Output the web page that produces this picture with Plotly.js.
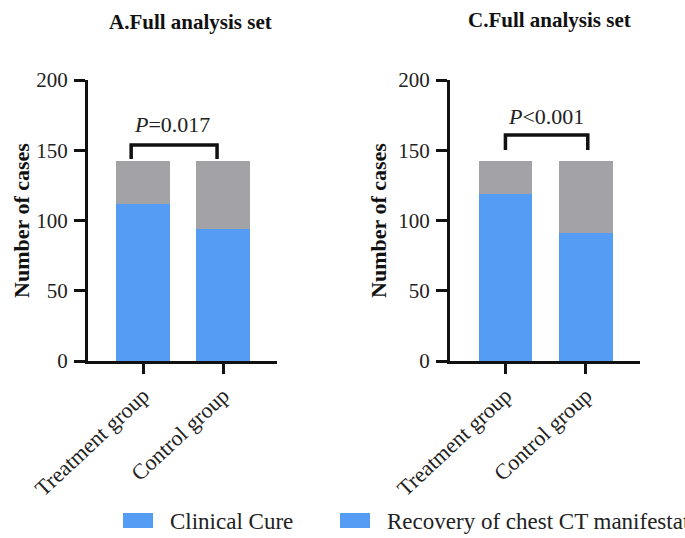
<!DOCTYPE html>
<html>
<head>
<meta charset="utf-8">
<script src="https://cdn.plot.ly/plotly-3.0.1.min.js"></script>
<style>html,body{margin:0;padding:0;overflow:hidden;background:#fff}</style>
</head>
<body>
<div id="chart" style="width:685px;height:538px"></div>
<script>
// ---- data ----
const categories = ["Treatment group", "Control group"];
const panelTitles = ["A.Full analysis set", "C.Full analysis set"];
const seriesNames = ["Clinical Cure", "Recovery of chest CT manifestation"];
const positiveA = [112, 94];   // blue, panel A (Clinical Cure)
const remainderA = [30, 48];   // gray, panel A
const positiveC = [119, 91];   // blue, panel C (chest CT recovery)
const remainderC = [23, 51];   // gray, panel C
const pLabels = ["<i>P</i>=0.017", "<i>P</i><0.001"];
const yTicks = [0, 50, 100, 150, 200];

// ---- style ----
const BLUE = "#559CF5", GRAY = "#A3A2A6";
const SERIF = "Liberation Serif, Times New Roman, serif";
const M = {l: 88, r: 45, t: 80, b: 177};
const W = 685, H = 538;
const PW = W - M.l - M.r, PH = H - M.t - M.b;
const px = x => (x - M.l) / PW;
const py = y => (H - M.b - y) / PH;

const barW = 0.67;
const traces = [
  {type: "bar", x: categories, y: positiveA, name: seriesNames[0], marker: {color: BLUE}, width: barW, xaxis: "x", yaxis: "y", showlegend: false},
  {type: "bar", x: categories, y: remainderA, name: "Other", marker: {color: GRAY}, width: barW, xaxis: "x", yaxis: "y", showlegend: false},
  {type: "bar", x: categories, y: positiveC, name: seriesNames[1], marker: {color: BLUE}, width: barW, xaxis: "x2", yaxis: "y2", showlegend: false},
  {type: "bar", x: categories, y: remainderC, name: "Other", marker: {color: GRAY}, width: barW, xaxis: "x2", yaxis: "y2", showlegend: false}
];

function xax(domain, anchor) {
  return {
    domain: domain, anchor: anchor, type: "category", range: [-0.69, 1.675],
    showline: true, linecolor: "#111", linewidth: 3, ticks: "outside", ticklen: 10, tickwidth: 3, tickcolor: "#111",
    tickangle: -43, tickfont: {family: SERIF, size: 22, color: "#222"}, showgrid: false, zeroline: false, fixedrange: true
  };
}
function yax(domain, anchor, standoff) {
  return {
    domain: domain, anchor: anchor, range: [0, 200], tickvals: yTicks,
    showline: true, linecolor: "#111", linewidth: 3, ticks: "outside", ticklen: 11, tickwidth: 3, tickcolor: "#111",
    ticklabelstandoff: 2,
    tickfont: {family: SERIF, size: 21, color: "#222"}, showgrid: false, zeroline: false,
    title: {text: "<b>Number of cases</b>", font: {family: SERIF, size: 22, color: "#111"}, standoff: standoff}
  };
}

function bracket(xa, ya, x0, x1, yb, yt) {
  return {type: "path", xref: xa, yref: ya, path: `M ${x0},${yb} L ${x0},${yt} L ${x1},${yt} L ${x1},${yb}`,
          line: {color: "#111", width: 3.5}};
}

const shapes = [
  bracket("x", "y", -0.15, 0.925, 143.8, 153.7),
  bracket("x2", "y2", 0, 1.025, 150.2, 160.9),
  // legend swatches
  {type: "rect", xref: "paper", yref: "paper", x0: px(123), x1: px(153), y0: py(528), y1: py(513), fillcolor: BLUE, line: {width: 0}},
  {type: "rect", xref: "paper", yref: "paper", x0: px(340), x1: px(370), y0: py(528), y1: py(513), fillcolor: BLUE, line: {width: 0}}
];

const annotations = [
  {xref: "paper", yref: "paper", x: px(190), y: py(22), text: "<b>" + panelTitles[0] + "</b>", showarrow: false,
   font: {family: SERIF, size: 21, color: "#111"}, xanchor: "center", yanchor: "middle"},
  {xref: "paper", yref: "paper", x: px(549), y: py(20), text: "<b>" + panelTitles[1] + "</b>", showarrow: false,
   font: {family: SERIF, size: 21, color: "#111"}, xanchor: "center", yanchor: "middle"},
  {xref: "x", yref: "y", x: 0.36, y: 168, text: pLabels[0], showarrow: false,
   font: {family: SERIF, size: 22, color: "#222"}, xanchor: "center", yanchor: "middle"},
  {xref: "x2", yref: "y2", x: 0.5, y: 173.7, text: pLabels[1], showarrow: false,
   font: {family: SERIF, size: 22, color: "#222"}, xanchor: "center", yanchor: "middle"},
  {xref: "paper", yref: "paper", x: px(168), y: py(521), text: seriesNames[0], showarrow: false,
   font: {family: SERIF, size: 23, color: "#222"}, xanchor: "left", yanchor: "middle"},
  {xref: "paper", yref: "paper", x: px(385), y: py(521), text: seriesNames[1], showarrow: false,
   font: {family: SERIF, size: 23, color: "#222"}, xanchor: "left", yanchor: "middle"}
];

const layout = {
  width: W, height: H, margin: M, barmode: "stack", showlegend: false,
  paper_bgcolor: "#fff", plot_bgcolor: "#fff",
  xaxis: xax([0, px(277)], "y"),
  yaxis: yax([0, 1], "x", 1),
  xaxis2: xax([px(450), 1], "y2"),
  yaxis2: yax([0, 1], "x2", 6),
  shapes: shapes, annotations: annotations
};

Plotly.newPlot("chart", traces, layout, {displayModeBar: false, staticPlot: true});
</script>
</body>
</html>
